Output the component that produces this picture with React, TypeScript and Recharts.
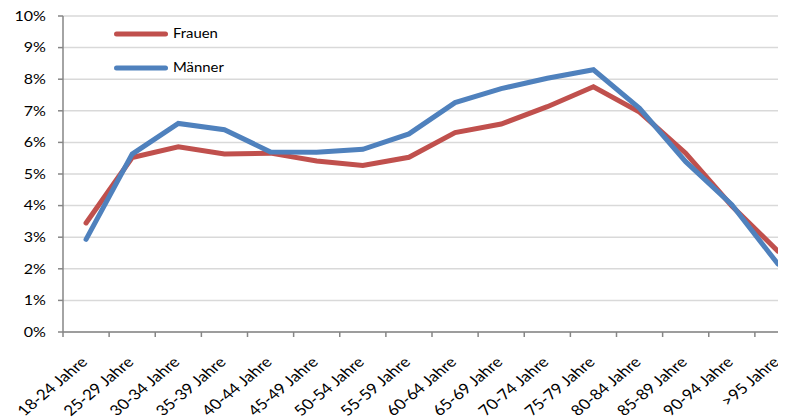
import React from 'react';
import { LineChart, Line, XAxis, YAxis, CartesianGrid, Legend } from 'recharts';

// Age groups on the category axis
const categories = [
  '18-24 Jahre', '25-29 Jahre', '30-34 Jahre', '35-39 Jahre', '40-44 Jahre',
  '45-49 Jahre', '50-54 Jahre', '55-59 Jahre', '60-64 Jahre', '65-69 Jahre',
  '70-74 Jahre', '75-79 Jahre', '80-84 Jahre', '85-89 Jahre', '90-94 Jahre', '>95 Jahre',
];

// Share per age group in percent
const frauen = [3.45, 5.52, 5.86, 5.63, 5.66, 5.41, 5.27, 5.53, 6.31, 6.58, 7.13, 7.76, 6.96, 5.66, 3.99, 2.56];
const maenner = [2.93, 5.63, 6.6, 6.4, 5.7, 5.69, 5.78, 6.27, 7.26, 7.7, 8.03, 8.3, 7.08, 5.39, 4.03, 2.15];

const yTicks = [0, 1, 2, 3, 4, 5, 6, 7, 8, 9, 10];

const seriesNames = ['Frauen', 'Männer'];
const seriesColors = ['#C0504D', '#4F81BD'];

const data = categories.map((c, i) => ({ name: c, Frauen: frauen[i], Männer: maenner[i] }));

const FONT = 'Lato, "Noto Sans", sans-serif';
const AXIS_COLOR = '#868686';
const TEXT_STRETCH = 1.19; // glyphs are drawn slightly wide

// Layout
const CHART_W = 810;
const CHART_H = 419;
const Y_AXIS_W = 63;
const X_AXIS_H = 87;
const MARGIN = { top: 16, right: 9, left: 0, bottom: 0 };
const PLOT_W = CHART_W - MARGIN.left - MARGIN.right - Y_AXIS_W;
const BAND = PLOT_W / categories.length;

// Category tick: boundary tick mark (Excel style) plus a rotated label
const CategoryTick = (props: any) => {
  const { x, y, payload } = props;
  const axisY = y - 8;
  const bx = x - BAND / 2;
  return (
    <g>
      <line x1={bx} y1={axisY} x2={bx} y2={axisY + 5} stroke={AXIS_COLOR} strokeWidth={1.5} />
      <g transform={`translate(${x + 2.5},${axisY + 31}) scale(${TEXT_STRETCH},1) rotate(-45)`}>
        <text x={0} y={0} textAnchor="end" fill="#000" fontSize={14.5} fontFamily={FONT}>
          {payload.value}
        </text>
      </g>
    </g>
  );
};

// Percent tick on the value axis
const PercentTick = (props: any) => {
  const { x, y, payload } = props;
  return (
    <g transform={`translate(${x},${y}) scale(${TEXT_STRETCH},1)`}>
      <text x={0} y={0} dy="0.36em" textAnchor="end" fill="#000" fontSize={13.5} fontFamily={FONT}>
        {`${payload.value}%`}
      </text>
    </g>
  );
};

const LegendBox = () => (
  <div style={{ fontFamily: FONT, fontSize: 12.5, color: '#000' }}>
    {seriesNames.map((n, i) => (
      <div key={n} style={{ display: 'flex', alignItems: 'center', height: 34 }}>
        <svg width={54} height={8} style={{ display: 'block' }}>
          <line x1={2.5} y1={4} x2={51.5} y2={4} stroke={seriesColors[i]} strokeWidth={5} strokeLinecap="round" />
        </svg>
        <span
          style={{
            marginLeft: 5,
            lineHeight: '34px',
            display: 'inline-block',
            transform: `scaleX(${TEXT_STRETCH})`,
            transformOrigin: 'left center',
          }}
        >
          {n}
        </span>
      </div>
    ))}
  </div>
);

export default function App() {
  return (
    <div style={{ margin: '-8px 0 0 -8px', width: 786, height: 419, overflow: 'hidden', position: 'relative', background: '#fff' }}>
      <LineChart width={CHART_W} height={CHART_H} data={data} margin={MARGIN}>
        <CartesianGrid vertical={false} stroke="#d9d9d9" strokeWidth={1.5} />
        <XAxis
          dataKey="name"
          height={X_AXIS_H}
          interval={0}
          padding={{ left: BAND / 2, right: BAND / 2 }}
          axisLine={{ stroke: AXIS_COLOR, strokeWidth: 1.5 }}
          tickLine={false}
          tickSize={6}
          tickMargin={2}
          tick={<CategoryTick />}
        />
        <YAxis
          width={Y_AXIS_W}
          domain={[0, 10]}
          ticks={yTicks}
          interval={0}
          axisLine={{ stroke: AXIS_COLOR, strokeWidth: 1.5 }}
          tickLine={{ stroke: AXIS_COLOR, strokeWidth: 1.5 }}
          tickSize={5}
          tickMargin={12}
          tick={<PercentTick />}
        />
        <Legend
          content={<LegendBox />}
          layout="horizontal"
          verticalAlign="middle"
          align="center"
          wrapperStyle={{ position: 'absolute', left: 114, top: 17, width: 'auto', height: 'auto' }}
        />
        <Line
          type="linear"
          dataKey="Frauen"
          stroke={seriesColors[0]}
          strokeWidth={5}
          strokeLinecap="round"
          dot={false}
          activeDot={false}
          isAnimationActive={false}
        />
        <Line
          type="linear"
          dataKey="Männer"
          stroke={seriesColors[1]}
          strokeWidth={5}
          strokeLinecap="round"
          dot={false}
          activeDot={false}
          isAnimationActive={false}
        />
      </LineChart>
    </div>
  );
}
